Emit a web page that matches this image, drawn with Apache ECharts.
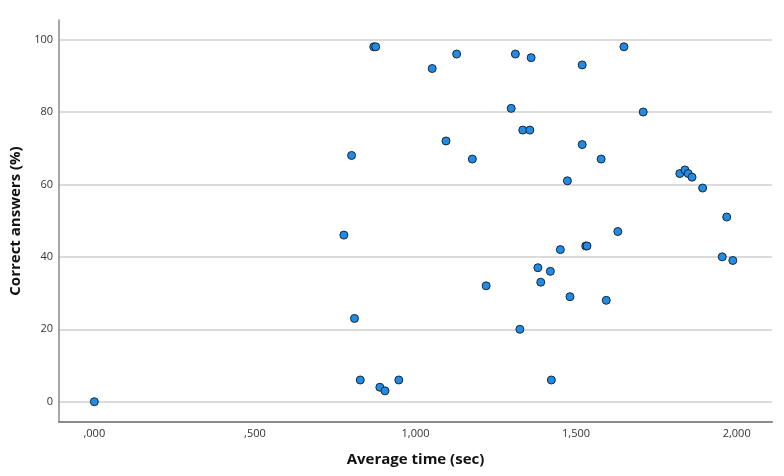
<!DOCTYPE html>
<html>
<head>
<meta charset="utf-8">
<script src="https://cdn.jsdelivr.net/npm/echarts@6/dist/echarts.min.js"></script>
<style>
  html, body { margin: 0; padding: 0; background: #fff; }
  #chart { width: 784px; height: 476px; }
</style>
</head>
<body>
<div id="chart"></div>
<script>
// average time per question (sec) and share of correct answers (%)
const avgTime = [
    0.000, 0.777, 0.801, 0.810, 0.828, 0.870, 0.876, 0.889, 0.905, 0.948,
    1.052, 1.095, 1.128, 1.177, 1.220, 1.298, 1.311, 1.325, 1.334, 1.356,
    1.360, 1.381, 1.390, 1.420, 1.423, 1.451, 1.473, 1.481, 1.519, 1.519,
    1.530, 1.534, 1.578, 1.594, 1.630, 1.649, 1.709, 1.823, 1.839, 1.849,
    1.861, 1.894, 1.955, 1.969, 1.988
]
const correctPct = [
    0, 46, 68, 23, 6, 98, 98, 4, 3, 6,
    92, 72, 96, 67, 32, 81, 96, 20, 75, 75,
    95, 37, 33, 36, 6, 42, 61, 29, 93, 71,
    43, 43, 67, 28, 47, 98, 80, 63, 64, 63,
    62, 59, 40, 51, 39
]
const xTicks = [0, 0.5, 1, 1.5, 2]
const yTicks = [0, 20, 40, 60, 80, 100]

const points = avgTime.map((t, i) => [t, correctPct[i]])

// SPSS style: ",500" / "1,000"
const fmtTime = v => {
    let s = Number(v).toFixed(3).replace('.', ',')
    if (s.startsWith('0,')) s = s.slice(1)
    return s
}

const chart = echarts.init(document.getElementById('chart'), null, { renderer: 'canvas' })

chart.setOption({
    animation: false,
    backgroundColor: '#fff',
    grid: { left: 59, right: 12, top: 20, bottom: 54 },
    xAxis: {
        type: 'value',
        min: -0.11,
        max: 2.11,
        name: 'Average time (sec)',
        nameLocation: 'middle',
        nameGap: 30,
        nameTextStyle: { fontFamily: 'Open Sans', fontWeight: 'bold', fontSize: 15, color: '#111' },
        axisLine: { show: true, onZero: false, lineStyle: { color: '#8a8a8a', width: 2 } },
        axisTick: { show: false, customValues: xTicks },
        axisLabel: {
            customValues: xTicks,
            formatter: fmtTime,
            fontFamily: 'Open Sans',
            fontSize: 11,
            color: '#333',
            margin: 6
        },
        splitLine: { show: false }
    },
    yAxis: {
        type: 'value',
        min: -5.6,
        max: 105.4,
        name: 'Correct answers (%)',
        nameLocation: 'middle',
        nameGap: 34,
        nameTextStyle: { fontFamily: 'Open Sans', fontWeight: 'bold', fontSize: 15, color: '#111' },
        axisLine: { show: true, onZero: false, lineStyle: { color: '#8a8a8a', width: 1.5 } },
        axisTick: { show: false, customValues: yTicks },
        axisLabel: {
            customValues: yTicks,
            fontFamily: 'Open Sans',
            fontSize: 11,
            color: '#333',
            margin: 6
        },
        splitLine: { show: true, lineStyle: { color: '#cfcfcf', width: 1.5 } }
    },
    series: [{
        type: 'scatter',
        data: points,
        symbol: 'circle',
        symbolSize: 8,
        itemStyle: {
            color: '#1e8ce8',
            borderColor: '#1b2733',
            borderWidth: 1,
            opacity: 1
        }
    }]
})
</script>
</body>
</html>
